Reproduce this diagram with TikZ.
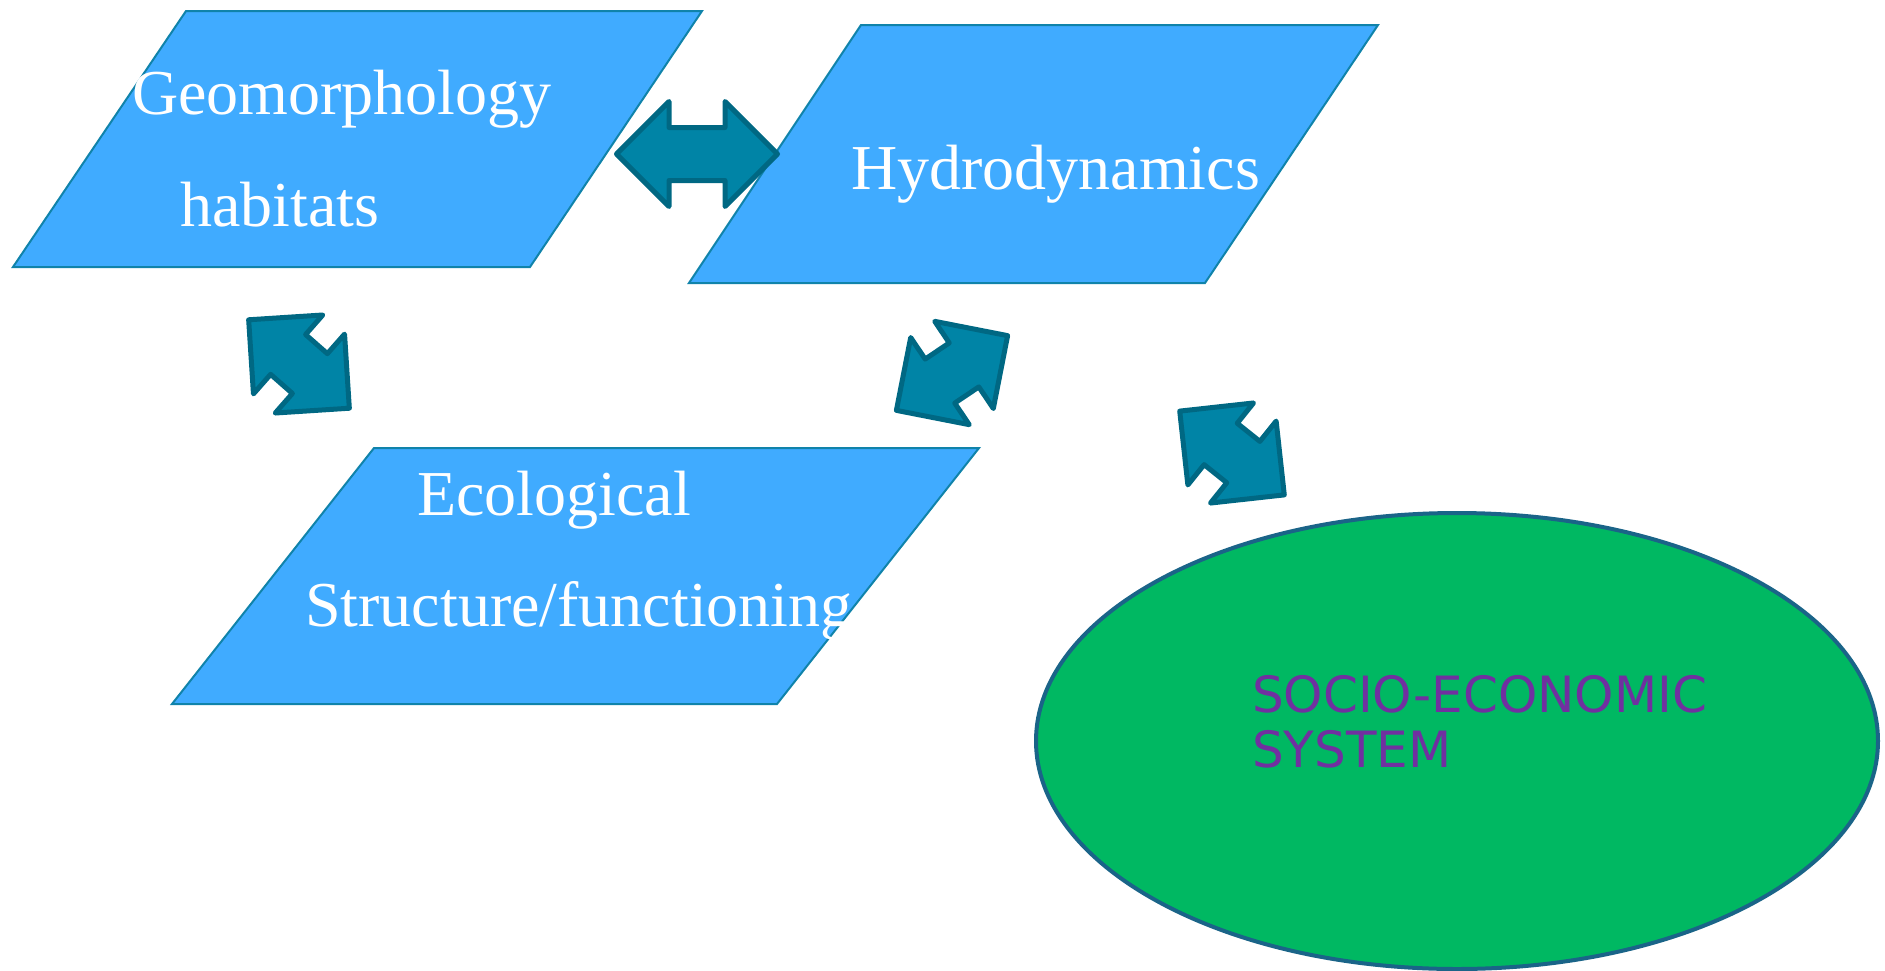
\documentclass[tikz,border=0pt]{standalone}
\usepackage{fontspec}
\setmainfont{Liberation Serif}
\newfontfamily\verdana{DejaVu Sans}
\usepackage{tikz}
\usetikzlibrary{positioning, shapes.geometric, shapes.arrows}
\definecolor{blockfill}{RGB}{64,171,255}
\definecolor{blockline}{RGB}{16,131,170}
\definecolor{arrowfill}{RGB}{0,132,166}
\definecolor{arrowline}{RGB}{0,104,131}
\definecolor{sociofill}{RGB}{0,184,98}
\definecolor{socioline}{RGB}{26,100,136}
\definecolor{sociotext}{RGB}{112,48,160}
\tikzset
{%
block/.style={fill=blockfill, draw=blockline, line width=2pt},
txt/.style={text=white, anchor=base west, inner sep=0pt, font=\fontsize{64}{70}\selectfont},
twoway/.style={double arrow, fill=arrowfill, draw=arrowline, line width=5pt, line join=round,
	inner xsep=0pt, inner ysep=24pt, minimum width=0pt, double arrow head extend=26pt,
	double arrow tip angle=90, minimum height=#1},
twoway/.default=134pt,
oval/.style={ellipse, fill=sociofill, draw=socioline, line width=4pt, inner sep=0pt}
}
\begin{document}
\begin{tikzpicture}[x=1pt, y=-1pt]
	\clip (0,0) rectangle (1885,970);

		% boxes
		\draw[block] (186,11) -- (702,11) -- (530,267) -- (13,267) -- cycle;
		\draw[block] (861,25) -- (1378,25) -- (1205,283) -- (689,283) -- cycle;
		\draw[block] (374,448) -- (979,448) -- (777,704) -- (172,704) -- cycle;

		\node[txt] (geo) at (132,114) {Geomorphology};
		\node[txt] (hab) at (180,226) {habitats};
		\node[txt] (hyd) at (851,189) {Hydrodynamics};
		\node[txt] (eco) at (417,515) {Ecological};
		\node[txt] (str) at (305,626) {Structure/functioning};

		% socio-economic oval
		\node[oval, minimum width=842pt, minimum height=456pt] (socio) at (1457,741) {};
		\node[anchor=base west, inner sep=0pt, text=sociotext, align=left,
			font=\verdana\fontsize{50}{55}\selectfont] (soctxt) at (1252,767)
			{SOCIO-ECONOMIC\\SYSTEM};

		% two-way arrows
		\node[twoway=161pt] (geohyd) at (697,154) {};
		\node[twoway, rotate=-41.3] (geoeco) at (299,364) {};
		\node[twoway, rotate=33.9] (hydeco) at (952,373) {};
		\node[twoway, rotate=-38.7] (hydsoc) at (1232,453) {};
\end{tikzpicture}
\end{document}
